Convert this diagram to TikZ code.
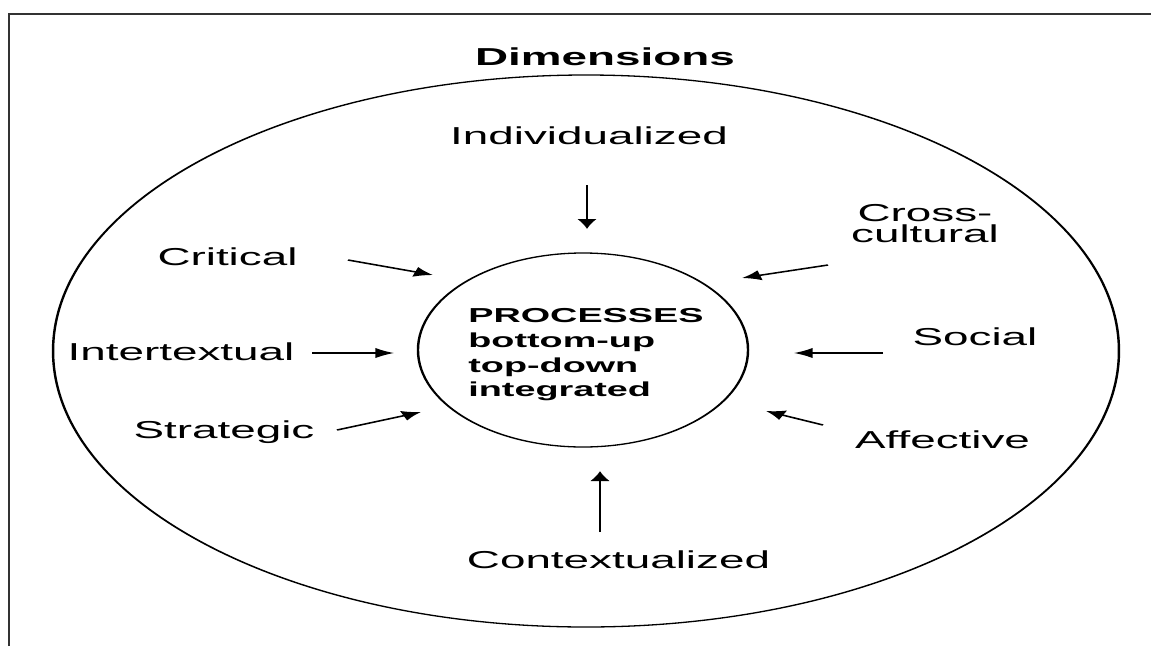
\documentclass[tikz,border=0pt]{standalone}
\usepackage{fontspec}
\setmainfont{Liberation Sans}
\usetikzlibrary{shapes.geometric,arrows.meta}

\begin{document}
\begin{tikzpicture}[x=1pt,y=-1pt,
  label text/.style={font=\fontsize{24.5}{29}\selectfont, text=black, inner sep=0pt},
  head text/.style={font=\bfseries\fontsize{24.5}{29}\selectfont, text=black, inner sep=0pt},
  proc text/.style={font=\bfseries\fontsize{20.2}{24.7}\selectfont, text=black, align=left, inner sep=0pt},
  ring/.style={draw, ellipse, line width=1.3pt, inner sep=0pt},
  feed/.style={line width=1.5pt, -{Latex[length=10pt,width=10.5pt]}},
  frame/.style={line width=2pt, draw=black!80}]
\useasboundingbox (0,0) rectangle (1151,646);

% open frame: top rule and left rule
\draw[frame] (9,646) -- (9,14) -- (1151,14);

% the whole figure is set wide: x positions below are given on the page scale
\begin{scope}[transform canvas={xscale=1.87}, x=0.53476pt]
  % outer ring of dimensions and inner ring of processes
  \node[ring, minimum width=570pt, minimum height=552pt] (dims) at (586,351) {};
  \node[ring, minimum width=176.5pt, minimum height=194pt] (proc) at (583,350) {};
  \node[proc text, anchor=north west] (proctext) at (468,308.5)
    {PROCESSES\\bottom-up\\top-down\\integrated};

  % title
  \node[head text, anchor=base] (title) at (605,65) {Dimensions};

  % dimension labels
  \node[label text, anchor=base] (indiv) at (589,144) {Individualized};
  \node[label text, anchor=base] (crit)  at (227.5,265) {Critical};
  \node[label text, anchor=base] (inter) at (181,360) {Intertextual};
  \node[label text, anchor=base] (strat) at (224,438) {Strategic};
  \node[label text, anchor=north, align=center, font=\fontsize{24.5}{21}\selectfont]
    (cross) at (925,204.5) {Cross-\\cultural};
  \node[label text, anchor=base] (soc)   at (975,345) {Social};
  \node[label text, anchor=base] (aff)   at (942.5,448) {Affective};
  \node[label text, anchor=base] (cont)  at (618.5,568) {Contextualized};

  % arrow ends
  \coordinate (indivA) at (587,185);  \coordinate (indivB) at (587,229);
  \coordinate (critA)  at (348,260);  \coordinate (critB)  at (433,275);
  \coordinate (interA) at (312,353);  \coordinate (interB) at (394,353);
  \coordinate (stratA) at (337,430);  \coordinate (stratB) at (421,412);
  \coordinate (crossA) at (828,265);  \coordinate (crossB) at (742,278);
  \coordinate (socA)   at (883,353);  \coordinate (socB)   at (794,353);
  \coordinate (affA)   at (823,425);  \coordinate (affB)   at (766,411);
  \coordinate (contA)  at (600,532);  \coordinate (contB)  at (600,471);

  % arrows pointing in to the processes
  \draw[feed] (indivA) -- (indivB);
  \draw[feed] (critA) -- (critB);
  \draw[feed] (interA) -- (interB);
  \draw[feed] (stratA) -- (stratB);
  \draw[feed] (crossA) -- (crossB);
  \draw[feed] (socA) -- (socB);
  \draw[feed] (affA) -- (affB);
  \draw[feed] (contA) -- (contB);
\end{scope}
\end{tikzpicture}
\end{document}
